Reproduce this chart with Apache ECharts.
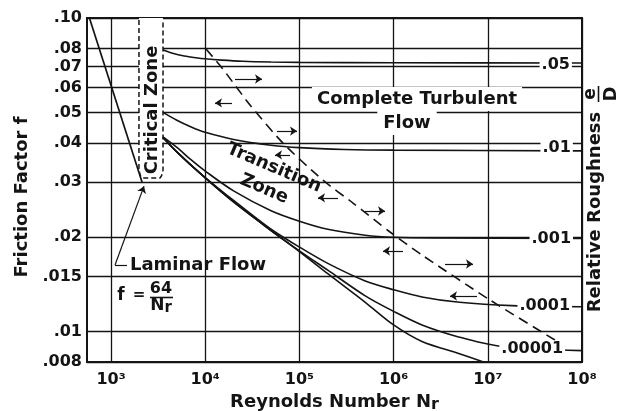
<!DOCTYPE html>
<html><head><meta charset="utf-8">
<script src="https://cdn.jsdelivr.net/npm/echarts@6/dist/echarts.min.js"></script>
<style>html,body{margin:0;padding:0;background:#fff}#c{width:629px;height:411px}</style>
</head><body><div id="c"></div>
<script>
const FONT = '"DejaVu Sans", sans-serif';
const INK = '#141414';

// ---- axes ----
const xTickValues = [1e3, 1e4, 1e5, 1e6, 1e7, 1e8];
const xTickLabels = ['10³', '10⁴', '10⁵', '10⁶', '10⁷', '10⁸'];
const yTickValues = [0.008, 0.01, 0.015, 0.02, 0.03, 0.04, 0.05, 0.06, 0.07, 0.08, 0.1];
const yTickLabels = ['.008', '.01', '.015', '.02', '.03', '.04', '.05', '.06', '.07', '.08', '.10'];

// ---- curves: [Reynolds number, friction factor] ----
const laminar = [[590, 0.1], [2150, 0.0298]];
const criticalZone = [[1980, 0.0986], [1980, 0.0327], [2050, 0.0314], [2133, 0.0309], [3310, 0.0309], [3440, 0.0314], [3565, 0.0327], [3565, 0.0986]];
const turbulenceBoundary = [[10200, 0.0796], [15080, 0.0693], [29900, 0.0528], [66970, 0.0399], [178000, 0.0304], [370700, 0.0257], [915800, 0.02078], [2.0e6, 0.01755], [1.055e7, 0.01261], [5.17e7, 0.0094]];
const rough05 = [[3560, 0.0790], [4500, 0.0772], [6000, 0.0757], [8000, 0.0747], [1e4, 0.0741], [1.5e4, 0.0734], [2.5e4, 0.0728], [5e4, 0.0724], [1e5, 0.0722], [1e6, 0.0720], [1e8, 0.0719]];
const rough01 = [[3560, 0.0500], [5000, 0.0472], [7000, 0.0450], [1e4, 0.0432], [2e4, 0.0410], [5e4, 0.0393], [1e5, 0.0386], [3e5, 0.0381], [1e6, 0.0379], [1e8, 0.0377]];
const rough001 = [[3560, 0.0418], [5000, 0.0387], [7000, 0.0354], [1e4, 0.0325], [2e4, 0.0281], [5e4, 0.0243], [1e5, 0.0225], [2e5, 0.0212], [5e5, 0.0203], [1e6, 0.0200], [3e6, 0.0199], [1e8, 0.0198]];
const rough0001 = [[3560, 0.0416], [5000, 0.0374], [7000, 0.0340], [1e4, 0.0310], [2e4, 0.0262], [5e4, 0.0212], [1e5, 0.0186], [2e5, 0.0165], [5e5, 0.0145], [1e6, 0.0136], [2e6, 0.0129], [5e6, 0.0124], [1.8e7, 0.0121], [1e8, 0.0120]];
const rough00001 = [[3560, 0.0416], [5000, 0.0374], [1e4, 0.0309], [2e4, 0.0259], [5e4, 0.0210], [1e5, 0.0181], [2e5, 0.0157], [5e5, 0.0130], [1e6, 0.0116], [2e6, 0.0105], [5e6, 0.0096], [1.3e7, 0.0090], [1e8, 0.0087]];
const smoothPipe = [[3560, 0.0416], [5000, 0.0374], [1e4, 0.0309], [2e4, 0.0259], [5e4, 0.0210], [1e5, 0.0180], [2e5, 0.0153], [5e5, 0.0124], [1e6, 0.0105], [2e6, 0.0093], [5e6, 0.0085], [9e6, 0.0080]];

// ---- relative roughness labels ----
const roughLabels = ['.05', '.01', '.001', '.0001', '.00001'];
const roughLabelAt = [[3.5e7, 0.0708], [3.58e7, 0.0385], [2.74e7, 0.0198], [2.04e7, 0.0121], [1.31e7, 0.0088]];

// ---- direction arrows: [Re from, Re to, f] ----
const arrowSegments = [
  [20720, 40090, 0.0639], [19250, 12700, 0.0536], [57840, 94300, 0.0436],
  [79500, 55080, 0.0366], [256900, 157600, 0.0267], [497000, 810400, 0.02425],
  [1.259e6, 772000, 0.01807], [3.51e6, 6.96e6, 0.01643], [7.68e6, 3.97e6, 0.01299]
];
const laminarLeader = [[1479, 0.01631], [1103, 0.01631], [2240, 0.0291]];

function nearestLabel(v, vals, labs) {
  let bi = 0, bd = Infinity;
  vals.forEach((t, i) => { const d = Math.abs(Math.log10(v) - Math.log10(t)); if (d < bd) { bd = d; bi = i; } });
  return bd < 0.004 ? labs[bi] : '';
}
function curve(name, data, extra) {
  return Object.assign({
    type: 'line', name, data, showSymbol: false, symbol: 'none', silent: true, z: 2,
    lineStyle: { color: INK, width: 1.6 }, smooth: 0.3
  }, extra || {});
}

const arrowData = arrowSegments.map(a => [{ coord: [a[0], a[2]] }, { coord: [a[1], a[2]] }]);
arrowData.push([{ coord: laminarLeader[0], symbol: 'none' }, { coord: laminarLeader[1], symbol: 'none' }]);
arrowData.push([{ coord: laminarLeader[1] }, { coord: laminarLeader[2] }]);

const bold = (s) => 'bold ' + s + 'px ' + FONT;

const chart = echarts.init(document.getElementById('c'));
chart.setOption({
  animation: false,
  backgroundColor: '#fff',
  grid: { left: 87, right: 47, top: 18, bottom: 49, show: true, borderColor: INK, borderWidth: 2, backgroundColor: 'transparent', outerBoundsMode: 'none' },
  xAxis: {
    type: 'log', logBase: 10, min: 556, max: 1e8,
    name: 'Reynolds Number N{r|r}', nameLocation: 'middle', nameGap: 26,
    nameTextStyle: { fontFamily: FONT, fontWeight: 'bold', fontSize: 18, color: INK, rich: { r: { fontFamily: FONT, fontWeight: 'bold', fontSize: 16, color: INK, padding: [5, 0, 0, 0] } } },
    axisLine: { show: false }, axisTick: { show: false, customValues: xTickValues },
    axisLabel: { customValues: xTickValues, margin: 10, fontFamily: FONT, fontWeight: 'bold', fontSize: 16, color: INK,
      formatter: v => nearestLabel(v, xTickValues, xTickLabels) },
    splitLine: { show: true, lineStyle: { color: INK, width: 1.3 } },
    minorSplitLine: { show: false }
  },
  yAxis: {
    type: 'log', logBase: 10, min: 0.008, max: 0.1,
    name: 'Friction Factor f', nameLocation: 'middle', nameGap: 51,
    nameTextStyle: { fontFamily: FONT, fontWeight: 'bold', fontSize: 18, color: INK, padding: [0, 14, 0, 0] },
    axisLine: { show: false }, axisTick: { show: false, customValues: yTickValues },
    axisLabel: { customValues: yTickValues, margin: 5, fontFamily: FONT, fontWeight: 'bold', fontSize: 16, color: INK,
      formatter: v => nearestLabel(v, yTickValues, yTickLabels) },
    splitLine: { show: true, lineStyle: { color: INK, width: 1.3 } }
  },
  series: [
    curve('criticalZone', criticalZone, { z: 1, smooth: false, lineStyle: { color: INK, width: 1.5, type: [5, 3] },
      markArea: { silent: true, itemStyle: { color: '#fff' }, data: [[{ coord: [1985, 0.1] }, { coord: [3560, 0.0312] }]] } }),
    curve('laminar', laminar, { smooth: false, lineStyle: { color: INK, width: 1.7 } }),
    curve('boundary', turbulenceBoundary, { smooth: 0.25, lineStyle: { color: INK, width: 1.6, type: [10, 6] } }),
    curve('.05', rough05),
    curve('.01', rough01),
    curve('.001', rough001),
    curve('.0001', rough0001),
    curve('.00001', rough00001),
    curve('smooth', smoothPipe),
    {
      type: 'line', name: 'arrows', data: [], silent: true, z: 3,
      markLine: { silent: true, symbol: ['none', 'arrow'], symbolSize: 7, label: { show: false },
        lineStyle: { color: INK, width: 1.2, type: 'solid' }, emphasis: { disabled: true }, data: arrowData }
    },
    {
      type: 'scatter', name: 'roughnessLabels', silent: true, z: 10, symbolSize: 1,
      itemStyle: { color: 'rgba(0,0,0,0)', opacity: 1 },
      data: roughLabelAt.map((p, i) => ({ value: [p[0], p[1]], name: roughLabels[i] })),
      label: { show: true, position: 'right', distance: 0, formatter: p => p.name, backgroundColor: '#fff', padding: [1, 2, 0, 2],
        fontFamily: FONT, fontWeight: 'bold', fontSize: 16, color: INK, opacity: 1 }
    }
  ],
  graphic: { elements: [
    { type: 'text', x: 417, y: 99, z: 100, style: { text: 'Complete Turbulent', font: bold(18), fill: INK, align: 'center', verticalAlign: 'middle', backgroundColor: '#fff', padding: [3, 5, 1, 5], lineHeight: 20 } },
    { type: 'text', x: 407, y: 123, z: 100, style: { text: 'Flow', font: bold(18), fill: INK, align: 'center', verticalAlign: 'middle', backgroundColor: '#fff', padding: [2, 6, 2, 6], lineHeight: 20 } },
    { type: 'text', x: 274, y: 168, z: 100, rotation: -23 * Math.PI / 180, style: { text: 'Transition', font: bold(18), fill: INK, align: 'center', verticalAlign: 'middle' } },
    { type: 'text', x: 264, y: 189, z: 100, rotation: -23 * Math.PI / 180, style: { text: 'Zone', font: bold(18), fill: INK, align: 'center', verticalAlign: 'middle' } },
    { type: 'text', x: 152, y: 110, z: 100, rotation: Math.PI / 2, style: { text: 'Critical Zone', font: bold(18), fill: INK, align: 'center', verticalAlign: 'middle' } },
    { type: 'text', x: 130, y: 265, z: 100, style: { text: 'Laminar Flow', font: bold(18), fill: INK, align: 'left', verticalAlign: 'middle' } },
    { type: 'text', x: 121, y: 296, z: 100, style: { text: 'f', font: bold(17), fill: INK, align: 'center', verticalAlign: 'middle' } },
    { type: 'text', x: 139, y: 295, z: 100, style: { text: '=', font: bold(15), fill: INK, align: 'center', verticalAlign: 'middle' } },
    { type: 'text', x: 161, y: 289, z: 100, style: { text: '64', font: bold(16), fill: INK, align: 'center', verticalAlign: 'middle' } },
    { type: 'line', z: 100, shape: { x1: 150, y1: 297.5, x2: 173, y2: 297.5 }, style: { stroke: INK, lineWidth: 1.6 } },
    { type: 'text', x: 161, y: 306, z: 100, style: { text: 'N{r|r}', font: bold(17), fill: INK, align: 'center', verticalAlign: 'middle', rich: { r: { font: bold(15), fill: INK, padding: [4, 0, 0, 0] } } } },
    { type: 'text', x: 595, y: 212, z: 100, rotation: Math.PI / 2, style: { text: 'Relative Roughness', font: bold(18), fill: INK, align: 'center', verticalAlign: 'middle' } },
    { type: 'text', x: 591, y: 94, z: 100, rotation: Math.PI / 2, style: { text: 'e', font: bold(17), fill: INK, align: 'center', verticalAlign: 'middle' } },
    { type: 'line', z: 100, shape: { x1: 598.5, y1: 86, x2: 598.5, y2: 102 }, style: { stroke: INK, lineWidth: 1.6 } },
    { type: 'text', x: 611, y: 94, z: 100, rotation: Math.PI / 2, style: { text: 'D', font: bold(18), fill: INK, align: 'center', verticalAlign: 'middle' } }
  ] }
});
</script>
</body></html>
